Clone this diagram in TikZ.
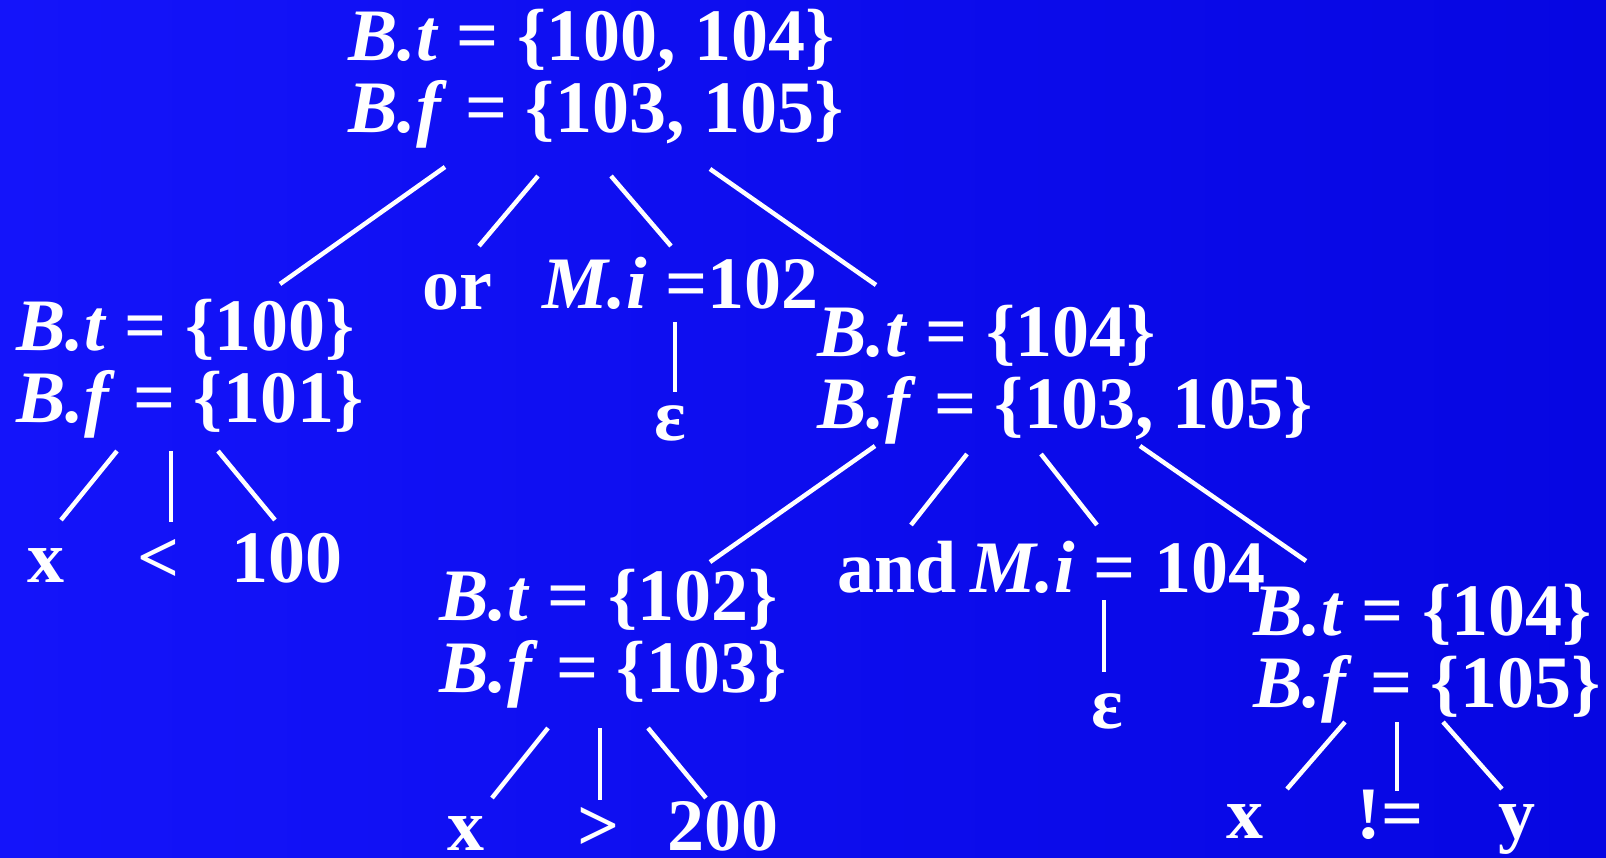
\documentclass[tikz,border=0pt]{standalone}
\usepackage{fontspec}
\setmainfont{Liberation Serif}[
  BoldFont={Liberation Serif Bold},
  ItalicFont={Liberation Serif Italic},
  BoldItalicFont={Liberation Serif Bold Italic}]
\usetikzlibrary{calc}
\definecolor{slideblue}{RGB}{20,20,250}
\definecolor{slidedark}{RGB}{6,6,226}
\newcommand{\Bt}[1]{\textit{B.t} = \{#1\}}
\newcommand{\Bf}[1]{\textit{B.f} = \{#1\}}
\newcommand{\Mi}{\textit{M.i}}

\begin{document}
\begin{tikzpicture}[x=1pt,y=-1pt,
    every node/.style={inner sep=0,text=white,font=\fontsize{74}{72}\selectfont\bfseries},
    attr/.style={anchor=base west,align=left},
    leaf/.style={anchor=base},
    edge/.style={draw=white,line width=4.5pt}]
    \useasboundingbox (0,0) rectangle (1606,858);
    \shade[left color=slideblue,right color=slidedark] (0,0) rectangle (1606,858);

    % attribute nodes (base = last line)
    \node[attr] (top) at (348,133) {\Bt{100, 104}\\\Bf{103, 105}};
    \node[attr] (lb) at (16,422) {\Bt{100}\\\Bf{101}};
    \node[attr] (or) at (422,310) {or};
    \node[attr] (mi1) at (542,309) {\Mi{} =102};
    \node[leaf] (eps1) at (670,440) {ε};
    \node[attr] (rb) at (817,428) {\Bt{104}\\\Bf{103, 105}};
    \node[attr] (bm) at (439,692) {\Bt{102}\\\Bf{103}};
    \node[attr] (and) at (837,592) {and};
    \node[attr] (mi2) at (970,592) {\Mi{} = 104};
    \node[leaf] (eps2) at (1107,728) {ε};
    \node[attr] (rr) at (1253,707) {\Bt{104}\\\Bf{105}};

    % leaves
    \node[leaf] (x1) at (46,582) {x};
    \node[leaf] (lt) at (159,582) {<};
    \node[leaf] (c100) at (287,582) {100};
    \node[leaf] (x2) at (466,850) {x};
    \node[leaf] (gt) at (599,850) {>};
    \node[leaf] (c200) at (723,850) {200};
    \node[leaf] (x3) at (1245,838) {x};
    \node[leaf] (ne) at (1390,838) {!=};
    \node[leaf] (y) at (1517,838) {y};

    % edges
    \draw[edge] ($(top.base west)+(97,34)$) -- ($(lb.base west)+(264,-138)$);
    \draw[edge] ($(top.base west)+(190,43)$) -- ($(or.base west)+(57,-64)$);
    \draw[edge] ($(top.base west)+(263,43)$) -- ($(mi1.base west)+(129,-63)$);
    \draw[edge] ($(top.base west)+(362,36)$) -- ($(rb.base west)+(59,-143)$);

    \draw[edge] ($(lb.base west)+(101,29)$) -- ($(x1.base)+(15,-62)$);
    \draw[edge] ($(lb.base west)+(155,29)$) -- ($(lt.base)+(12,-60)$);
    \draw[edge] ($(lb.base west)+(202,29)$) -- ($(c100.base)+(-12,-62)$);

    \draw[edge] ($(mi1.base west)+(133,13)$) -- ($(eps1.base)+(5,-48)$);

    \draw[edge] ($(rb.base west)+(58,18)$) -- ($(bm.base west)+(271,-130)$);
    \draw[edge] ($(rb.base west)+(150,26)$) -- ($(and.base west)+(74,-67)$);
    \draw[edge] ($(rb.base west)+(224,26)$) -- ($(mi2.base west)+(127,-67)$);
    \draw[edge] ($(rb.base west)+(323,18)$) -- ($(rr.base west)+(53,-146)$);

    \draw[edge] ($(mi2.base west)+(134,8)$) -- ($(eps2.base)+(-3,-56)$);

    \draw[edge] ($(bm.base west)+(109,36)$) -- ($(x2.base)+(26,-52)$);
    \draw[edge] ($(bm.base west)+(161,36)$) -- ($(gt.base)+(1,-50)$);
    \draw[edge] ($(bm.base west)+(209,36)$) -- ($(c200.base)+(-17,-52)$);

    \draw[edge] ($(rr.base west)+(92,15)$) -- ($(x3.base)+(42,-49)$);
    \draw[edge] ($(rr.base west)+(144,15)$) -- ($(ne.base)+(7,-47)$);
    \draw[edge] ($(rr.base west)+(190,15)$) -- ($(y.base)+(-15,-49)$);
\end{tikzpicture}
\end{document}
